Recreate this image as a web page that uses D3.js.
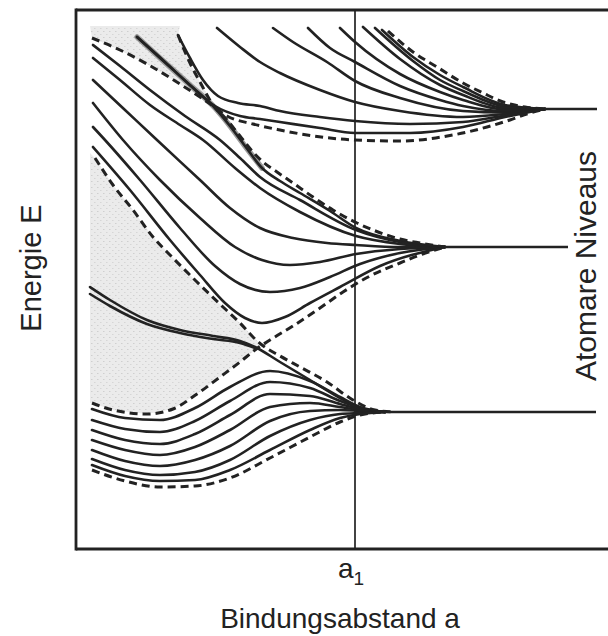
<!DOCTYPE html>
<html><head><meta charset="utf-8">
<script src="https://cdn.jsdelivr.net/npm/d3@7"></script>
<style>body{margin:0;background:#fff} svg{display:block}</style>
</head><body>
<svg id="chart" width="608" height="636"></svg>
<script>
// ---------- DATA (x: bond distance a, y: energy E, arbitrary units) ----------
const a1 = 27.9;
const xTickLabels = [{ value: a1, base: "a", sub: "1" }];
const axisTitleX = "Bindungsabstand a";
const axisTitleY = "Energie E";
const levelLabel = "Atomare Niveaus";

// atomic levels: energy, start of single line, end of line
const levelE     = [44.0, 30.2, 13.7];
const levelStart = [46.9, 36.9, 30.9];
const levelEnd   = [52.1, 49.2, 52.0];

// upper band
const upperT1 = [[30.6,51.9],[33.7,49.2],[36.4,47.4],[38.7,46.2],[42.9,44.4],[46.9,44.0]];
const upperT2 = [[29.9,52.1],[33.7,48.8],[36.4,46.9],[38.7,45.8],[42.9,44.25],[46.9,44.0]];
const upperT3 = [[28.7,52.2],[32.4,49.0],[36.4,46.4],[38.7,45.4],[42.9,44.1],[46.9,44.0]];
const upperT4 = [[26.4,52.1],[27.9,50.7],[32.4,47.5],[36.4,45.7],[38.7,44.9],[42.9,43.95],[46.9,44.0]];
const upperT5 = [[23.2,52.1],[25.4,50.1],[27.9,48.7],[32.4,46.3],[36.4,44.9],[38.7,44.3],[42.9,43.8],[46.9,44.0]];
const upperT6 = [[19.7,52.1],[21.7,50.7],[25.1,48.7],[27.9,46.8],[32.4,45.1],[38.7,43.8],[42.9,43.65],[46.9,44.0]];
const upperT7 = [[14.1,52.1],[16.4,50.2],[18.4,48.7],[20.4,47.6],[24.4,45.9],[27.9,44.7],[32.4,43.8],[38.7,43.2],[42.9,43.5],[46.9,44.0]];
const upperT8 = [[10.2,51.4],[11.4,49.1],[12.7,46.9],[14.2,45.3],[16.2,44.6],[18.4,44.3],[20.4,43.8],[24.4,43.2],[27.9,42.8],[33.4,42.5],[38.7,42.7],[42.9,43.35],[46.9,44.0]];
const upperT9 = [[6.1,51.2],[8.9,48.7],[11.6,46.2],[13.9,44.3],[16.4,43.3],[18.4,43.0],[20.4,42.7],[24.4,42.1],[27.9,41.6],[33.4,41.6],[38.7,42.2],[42.9,43.2],[46.9,44.0]];
const upperEdgeTop = [[31.2,51.8],[33.7,49.7],[36.1,48.2],[38.7,46.6],[40.7,45.6],[42.7,44.7],[44.9,44.2],[46.9,44.0]];
const upperEdgeBottom = [[1.6,51.1],[4.4,49.9],[7.1,48.5],[10.4,46.5],[12.4,45.2],[13.7,44.3],[15.1,43.3],[17.7,42.5],[20.4,41.9],[23.1,41.4],[27.9,40.9],[32.4,40.8],[37.7,41.4],[41.1,42.2],[43.4,42.9],[45.4,43.6],[46.9,44.0]];

// middle band
const midM0 = [[6.1,51.2],[8.4,49.1],[11.4,46.4],[13.9,44.1],[15.4,42.3],[16.9,40.3],[18.6,38.1],[20.4,36.8],[22.4,35.6],[25.4,33.8],[28.0,32.1],[32.4,30.8],[36.9,30.2]];
const midM1 = [[1.7,50.4],[4.4,48.3],[7.4,45.9],[10.9,43.3],[14.4,40.9],[16.4,39.1],[18.4,37.2],[22.4,34.9],[28.0,31.9],[32.4,30.7],[36.9,30.2]];
const midM2 = [[1.7,49.1],[4.4,46.9],[7.4,44.4],[10.4,42.4],[12.7,40.9],[15.9,38.1],[18.4,36.1],[22.4,33.7],[28.0,31.3],[32.4,30.5],[36.9,30.2]];
const midM3 = [[1.7,46.9],[4.9,43.9],[8.1,40.9],[12.4,36.9],[15.4,34.1],[18.4,32.1],[21.7,31.1],[25.1,30.6],[28.0,30.4],[32.4,30.2],[36.9,30.2]];
const midM4 = [[1.7,44.6],[4.7,40.9],[8.4,36.9],[12.4,33.1],[15.9,30.2],[18.6,28.9],[21.4,28.4],[24.4,28.7],[28.0,29.5],[32.4,30.0],[36.9,30.2]];
const midM5 = [[1.7,42.2],[2.9,40.9],[6.4,36.9],[10.4,32.1],[13.9,28.3],[16.4,26.5],[19.4,25.7],[22.4,26.1],[25.4,27.2],[28.4,28.5],[32.4,29.6],[36.9,30.2]];
const midM6 = [[1.7,40.2],[5.4,35.9],[9.4,30.9],[12.4,27.4],[14.9,24.6],[16.9,23.1],[18.6,22.6],[20.9,23.2],[23.4,24.6],[26.4,26.2],[30.4,28.3],[36.9,30.2]];
const midEdgeTop = [[10.2,51.4],[11.4,48.6],[12.4,46.7],[13.7,44.4],[15.1,42.9],[16.4,41.3],[17.7,39.7],[18.7,38.7],[20.1,37.7],[21.7,36.6],[23.7,35.2],[25.7,33.9],[28.1,32.6],[29.7,31.9],[32.4,31.0],[34.4,30.6],[36.9,30.2]];
const midEdgeBottom = [[1.6,14.6],[3.7,13.9],[7.1,13.5],[9.7,14.0],[12.1,15.5],[14.4,17.2],[16.4,18.7],[17.9,19.9],[19.4,20.9],[21.7,22.3],[24.4,24.1],[26.7,25.7],[29.4,27.3],[32.4,28.6],[34.4,29.4],[36.9,30.2]];

// lower band
const lowerEdgeTop = [[1.9,39.1],[3.7,36.4],[5.7,33.9],[7.7,31.2],[9.7,29.1],[12.1,26.7],[14.7,24.2],[16.4,22.6],[17.7,21.2],[18.6,20.4],[20.4,19.3],[22.4,18.2],[25.1,16.7],[27.7,14.9],[29.9,13.9],[31.9,13.7]];
const lowerDa = [[1.4,26.2],[3.4,24.9],[7.1,22.9],[10.4,21.9],[13.7,21.3],[16.4,20.8],[17.9,20.2],[20.4,18.7],[23.4,16.9],[26.4,15.1],[28.6,14.0],[30.9,13.7]];
const lowerDb = [[1.4,25.5],[3.4,24.3],[7.1,22.5],[10.4,21.6],[13.7,21.0],[16.4,20.6],[17.9,20.1]];
const lowerX  = [1.6, 4.9, 8.4, 11.9, 15.4, 19.4, 23.4, 26.4, 28.4, 30.9];
const lowerB1 = [14.0, 13.1, 12.9, 14.1, 16.2, 17.8, 16.8, 15.2, 14.2, 13.7];
const lowerB2 = [12.9, 12.0, 11.7, 12.8, 14.8, 16.7, 16.1, 14.8, 14.1, 13.7];
const lowerB3 = [11.9, 10.9, 10.5, 11.5, 13.4, 15.5, 15.3, 14.5, 14.0, 13.7];
const lowerB4 = [10.9, 9.9, 9.4, 10.2, 11.9, 14.2, 14.6, 14.2, 13.9, 13.7];
const lowerB5 = [9.9, 8.8, 8.3, 8.9, 10.3, 12.8, 13.8, 13.9, 13.8, 13.7];
const lowerB6 = [9.0, 7.9, 7.4, 7.7, 8.9, 11.3, 12.9, 13.5, 13.6, 13.7];
const lowerB7 = [8.4, 7.3, 6.8, 6.9, 7.9, 9.9, 11.9, 13.1, 13.5, 13.7];
const lowerEdgeBottom = [7.9, 6.8, 6.2, 6.3, 7.1, 9.1, 11.2, 12.7, 13.4, 13.7];

// ---------- DRAW ----------
const svg = d3.select("#chart");
const x = d3.scaleLinear().domain([0, 53]).range([76, 606]);
const y = d3.scaleLinear().domain([0, 53.9]).range([549, 10]);
const INK = "#222";
const FONT = "'Liberation Sans', Arial, Helvetica, sans-serif";

const curve = d3.line().x(d => x(d[0])).y(d => y(d[1])).curve(d3.curveMonotoneX);
const poly = d3.line().x(d => x(d[0])).y(d => y(d[1])).curve(d3.curveLinearClosed);
const zip = ys => lowerX.map((v, i) => [v, ys[i]]);

// stipple texture for the overlap regions
const defs = svg.append("defs");
const pat = defs.append("pattern").attr("id", "stipple").attr("patternUnits", "userSpaceOnUse")
  .attr("width", 6).attr("height", 6);
pat.append("rect").attr("width", 6).attr("height", 6).attr("fill", "#ebebeb");
pat.append("rect").attr("x", 1).attr("y", 1).attr("width", 1.5).attr("height", 1).attr("fill", "#cfcfcf");
pat.append("rect").attr("x", 4).attr("y", 4).attr("width", 1.5).attr("height", 1).attr("fill", "#d6d6d6");

// shaded overlap regions
const topY = y.domain()[1] - 1.6;
const regionA = [[1.4, topY], [10.4, topY],
  ...midEdgeTop.filter(d => d[0] <= 13.7),
  ...upperEdgeBottom.filter(d => d[0] <= 13.7).reverse()];
const regionB = [[1.4, 39.6],
  ...lowerEdgeTop.filter(d => d[0] <= 18.6),
  ...midEdgeBottom.filter(d => d[0] <= 17.9).reverse(), [1.4, 14.6]];
svg.append("g").selectAll("path").data([regionA, regionB]).join("path")
  .attr("d", poly).attr("fill", "url(#stipple)").attr("stroke", "none");

// grey streak on top curve of middle band
svg.append("path").attr("d", curve(midM0.slice(0, 7)))
  .attr("fill", "none").attr("stroke", "#9a9a9a").attr("stroke-width", 5.5).attr("stroke-linecap", "round");

// frame
const [x0, x1] = x.range(), [y0, y1] = y.range();
const frame = svg.append("g").attr("stroke", INK).attr("stroke-width", 2.8).attr("fill", "none");
frame.append("line").attr("x1", x0).attr("x2", 608).attr("y1", y1).attr("y2", y1);
frame.append("line").attr("x1", x0).attr("x2", 608).attr("y1", y0).attr("y2", y0);
frame.append("line").attr("x1", x0).attr("x2", x0).attr("y1", y1 - 1.4).attr("y2", y0 + 1.4);

// a1 vertical
svg.append("line").attr("x1", x(a1)).attr("x2", x(a1)).attr("y1", y1).attr("y2", y0)
  .attr("stroke", INK).attr("stroke-width", 1.7);

// solid curves
const solids = [upperT1, upperT2, upperT3, upperT4, upperT5, upperT6, upperT7, upperT8, upperT9,
  midM0, midM1, midM2, midM3, midM4, midM5, midM6, lowerDa, lowerDb,
  zip(lowerB1), zip(lowerB2), zip(lowerB3), zip(lowerB4), zip(lowerB5), zip(lowerB6), zip(lowerB7)];
svg.append("g").selectAll("path").data(solids).join("path")
  .attr("d", curve).attr("fill", "none").attr("stroke", INK).attr("stroke-width", 2.6)
  .attr("stroke-linecap", "round");

// dashed band edges
const dashed = [upperEdgeTop, upperEdgeBottom, midEdgeTop, midEdgeBottom, lowerEdgeTop, zip(lowerEdgeBottom)];
svg.append("g").selectAll("path").data(dashed).join("path")
  .attr("d", curve).attr("fill", "none").attr("stroke", INK).attr("stroke-width", 3)
  .attr("stroke-dasharray", "8,5");

// atomic levels
svg.append("g").selectAll("line").data(levelE).join("line")
  .attr("x1", (d, i) => x(levelStart[i])).attr("x2", (d, i) => x(levelEnd[i]))
  .attr("y1", d => y(d)).attr("y2", d => y(d))
  .attr("stroke", INK).attr("stroke-width", 2.4);

// texts
const tick = svg.append("g").selectAll("text").data(xTickLabels).join("text")
  .attr("x", d => x(d.value) - 4).attr("y", 578).attr("text-anchor", "middle")
  .attr("font-family", FONT).attr("font-size", 28).attr("fill", INK);
tick.append("tspan").text(d => d.base);
tick.append("tspan").text(d => d.sub).attr("font-size", 19).attr("dy", 7);

svg.append("text").text(axisTitleX).attr("x", 340).attr("y", 628).attr("text-anchor", "middle")
  .attr("font-family", FONT).attr("font-size", 28).attr("fill", INK);
svg.append("text").text(axisTitleY).attr("transform", "translate(41,268) rotate(-90)")
  .attr("text-anchor", "middle").attr("font-family", FONT).attr("font-size", 29).attr("fill", INK);
svg.append("text").text(levelLabel).attr("transform", "translate(596,266) rotate(-90)")
  .attr("text-anchor", "middle").attr("font-family", FONT).attr("font-size", 30).attr("fill", INK);
</script>
</body></html>
